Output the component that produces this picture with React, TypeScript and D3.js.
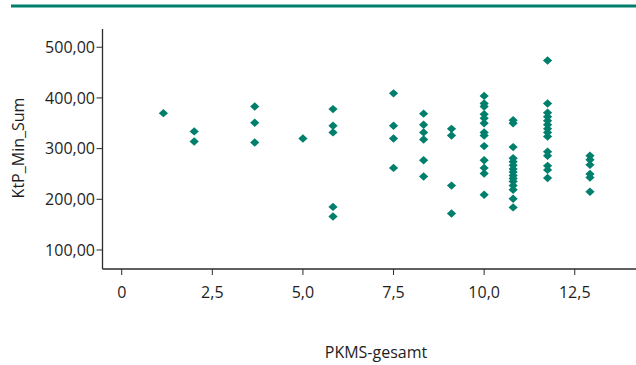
import React from "react";
import * as d3 from "d3";

const pkmsGesamt = [
  1.15,
  2.0, 2.0,
  3.67, 3.67, 3.67,
  5.0,
  5.83, 5.83, 5.83, 5.83, 5.83,
  7.5, 7.5, 7.5, 7.5,
  8.33, 8.33, 8.33, 8.33, 8.33, 8.33,
  9.1, 9.1, 9.1, 9.1,
  10.0, 10.0, 10.0, 10.0, 10.0, 10.0, 10.0, 10.0, 10.0, 10.0, 10.0, 10.0, 10.0,
  10.8, 10.8, 10.8, 10.8, 10.8, 10.8, 10.8, 10.8, 10.8, 10.8, 10.8, 10.8, 10.8, 10.8, 10.8,
  11.75, 11.75, 11.75, 11.75, 11.75, 11.75, 11.75, 11.75, 11.75, 11.75, 11.75, 11.75, 11.75, 11.75,
  12.92, 12.92, 12.92, 12.92, 12.92, 12.92,
];

const ktpMinSum = [
  370,
  334, 314,
  383, 351, 312,
  320,
  378, 345, 332, 185, 166,
  409, 345, 320, 262,
  369, 347, 332, 318, 277, 245,
  339, 326, 227, 172,
  404, 389, 383, 368, 360, 350, 332, 326, 305, 277, 262, 251, 209,
  356, 350, 303, 281, 274, 267, 260, 254, 247, 241, 235, 227, 219, 201, 184,
  474, 389, 371, 363, 355, 347, 339, 332, 324, 294, 286, 266, 258, 242,
  286, 278, 268, 250, 243, 215,
];

const xTicks = [0, 2.5, 5, 7.5, 10, 12.5];
const yTicks = [100, 200, 300, 400, 500];
const xTitle = "PKMS-gesamt";
const yTitle = "KtP_Min_Sum";

const W = 636;
const H = 365;
const TEAL = "#00806c";
const AXIS = "#2b2b2b";
const FONT = "'Open Sans', 'DejaVu Sans', sans-serif";

const x = d3.scaleLinear().domain([-0.53, 14.19]).range([102.5, 636]);
const y = d3.scaleLinear().domain([62.5, 536]).range([269, 29]);

const diamond: d3.SymbolType = {
  draw(ctx) {
    const w = 4.6;
    const h = 4.2;
    ctx.moveTo(0, -h);
    ctx.lineTo(w, 0);
    ctx.lineTo(0, h);
    ctx.lineTo(-w, 0);
    ctx.closePath();
  },
};

const fmtX = (v: number) => (v === 0 ? "0" : d3.format(".1f")(v).replace(".", ","));
const fmtY = (v: number) => d3.format(".2f")(v).replace(".", ",");

export default function App() {
  const sym = d3.symbol().type(diamond)() as string;
  const [x0, x1] = x.range();
  const [yb, yt] = y.range();
  return (
    <svg
      width={W}
      height={H}
      style={{ position: "absolute", left: 0, top: 0, background: "#fff" }}
      fontFamily={FONT}
    >
      <line x1={11} x2={W} y1={6} y2={6} stroke={TEAL} strokeWidth={3} />
      <line x1={x0} x2={x0} y1={yt} y2={yb} stroke={AXIS} strokeWidth={1.3} />
      <line x1={x0} x2={x1} y1={yb} y2={yb} stroke={AXIS} strokeWidth={1.3} />
      {yTicks.map((t) => (
        <g key={"y" + t}>
          <line x1={x0 - 6} x2={x0} y1={y(t)} y2={y(t)} stroke={AXIS} strokeWidth={1} />
          <text x={x0 - 7.5} y={y(t)} dy="0.35em" textAnchor="end" fontSize={16} fill="#1e1e1e">
            {fmtY(t)}
          </text>
        </g>
      ))}
      {xTicks.map((t) => (
        <g key={"x" + t}>
          <line x1={x(t)} x2={x(t)} y1={yb} y2={yb + 6} stroke={AXIS} strokeWidth={1} />
          <text x={x(t)} y={yb + 29} textAnchor="middle" fontSize={16} fill="#1e1e1e">
            {fmtX(t)}
          </text>
        </g>
      ))}
      <text x={376} y={358} textAnchor="middle" fontSize={16} fill="#1e1e1e">
        {xTitle}
      </text>
      <text
        transform={`translate(24,148) rotate(-90)`}
        textAnchor="middle"
        fontSize={16}
        fill="#1e1e1e"
      >
        {yTitle}
      </text>
      {pkmsGesamt.map((v, i) => (
        <path
          key={i}
          d={sym}
          transform={`translate(${x(v)},${y(ktpMinSum[i])})`}
          fill={TEAL}
        />
      ))}
    </svg>
  );
}
